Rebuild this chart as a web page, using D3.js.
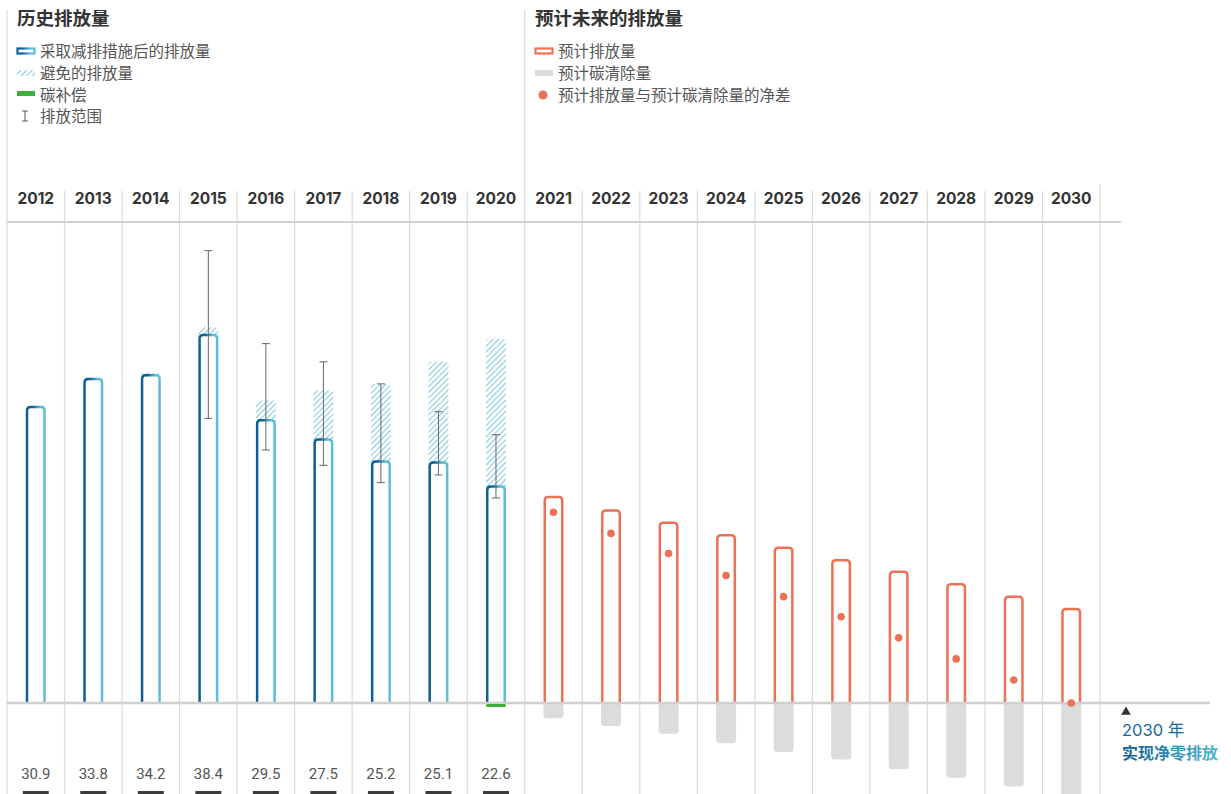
<!DOCTYPE html>
<html>
<head>
<meta charset="utf-8">
<script src="https://cdn.jsdelivr.net/npm/d3@7"></script>
<style>
  body { margin: 0; background: #fff; }
  text { font-family: "Noto Sans CJK SC", "Noto Sans", sans-serif; }
</style>
</head>
<body>
<svg id="mainsvg" width="1231" height="794"></svg>
<script>
// 历史数据
const histYears = ['2012', '2013', '2014', '2015', '2016', '2017', '2018', '2019', '2020'];
const histEmissions = [30.9, 33.8, 34.2, 38.4, 29.5, 27.5, 25.2, 25.1, 22.6];
const avoided = [0, 0.15, 0.3, 0.8, 2.1, 5.1, 8.1, 10.5, 15.4];
const rangeLow = [null, null, null, 29.7, 26.4, 24.8, 23.0, 23.8, 21.4];
const rangeHigh = [null, null, null, 47.2, 37.5, 35.6, 33.3, 30.4, 28.0];
const offsets = [0, 0, 0, 0, 0, 0, 0, 0, 0.3];
// 预计数据
const futureYears = ['2021', '2022', '2023', '2024', '2025', '2026', '2027', '2028', '2029', '2030'];
const futureEmissions = [21.5, 20.1, 18.8, 17.5, 16.2, 14.9, 13.7, 12.4, 11.1, 9.8];
const futureNet = [19.9, 17.7, 15.6, 13.3, 11.1, 9.0, 6.8, 4.6, 2.4, 0];

const allYears = histYears.concat(futureYears);
const blueDark = '#0d5f94';
const blueLight = '#5cbdd8';
const coral = '#ec7257';
const grid = '#dadada';

const svg = d3.select('#mainsvg');
const defs = svg.append('defs');

const grad = defs.append('linearGradient').attr('id', 'blueGrad')
  .attr('x1', '0%').attr('x2', '100%').attr('y1', '0%').attr('y2', '0%');
grad.append('stop').attr('offset', '0%').attr('stop-color', blueDark);
grad.append('stop').attr('offset', '30%').attr('stop-color', blueDark);
grad.append('stop').attr('offset', '75%').attr('stop-color', blueLight);
grad.append('stop').attr('offset', '100%').attr('stop-color', blueLight);

const textGrad = defs.append('linearGradient').attr('id', 'textGrad')
  .attr('x1', '0%').attr('x2', '100%');
textGrad.append('stop').attr('offset', '0%').attr('stop-color', '#0c5e93');
textGrad.append('stop').attr('offset', '100%').attr('stop-color', '#4fb6d3');

const hatch = defs.append('pattern').attr('id', 'hatch')
  .attr('patternUnits', 'userSpaceOnUse')
  .attr('width', 4).attr('height', 4)
  .attr('patternTransform', 'rotate(45)');
hatch.append('line').attr('x1', 0).attr('y1', 0).attr('x2', 0).attr('y2', 4)
  .attr('stroke', blueLight).attr('stroke-width', 1.6);

const xScale = d3.scaleBand().domain(allYears).range([7, 1100]);
const yScale = d3.scaleLinear().domain([0, 38.4]).range([703, 335]);
const bw = 20;
const r = 3.5;
const cx = d => xScale(d) + xScale.bandwidth() / 2;

// 顶部圆角，底部开口
const openTop = (x0, x1, yTop, yBase) =>
  `M${x0},${yBase}V${yTop + r}Q${x0},${yTop} ${x0 + r},${yTop}H${x1 - r}Q${x1},${yTop} ${x1},${yTop + r}V${yBase}`;
const closedTop = (x0, x1, yTop, yBase) => openTop(x0, x1, yTop, yBase) + 'Z';
const closedBottom = (x0, x1, yTop, yBot) =>
  `M${x0},${yTop}V${yBot - r}Q${x0},${yBot} ${x0 + r},${yBot}H${x1 - r}Q${x1},${yBot} ${x1},${yBot - r}V${yTop}Z`;

// 网格
const gridG = svg.append('g');
gridG.selectAll('line.v').data(allYears.slice(1)).join('line')
  .attr('x1', d => xScale(d)).attr('x2', d => xScale(d))
  .attr('y1', d => d === '2021' ? 10 : 191).attr('y2', 794)
  .attr('stroke', grid).attr('stroke-width', 1.2);
gridG.append('line').attr('x1', 1100).attr('x2', 1100).attr('y1', 184).attr('y2', 794)
  .attr('stroke', grid).attr('stroke-width', 1.2);
gridG.append('line').attr('x1', 7).attr('x2', 7).attr('y1', 10).attr('y2', 794)
  .attr('stroke', grid).attr('stroke-width', 1.2);
gridG.append('line').attr('x1', 7).attr('x2', 1121).attr('y1', 222).attr('y2', 222)
  .attr('stroke', '#d0d0d0').attr('stroke-width', 2);

// 年份
svg.append('g').selectAll('text').data(allYears).join('text')
  .attr('x', d => cx(d)).attr('y', 204)
  .attr('text-anchor', 'middle')
  .style('font-family', 'Inter, sans-serif')
  .attr('font-size', 15.5).attr('font-weight', 'bold').attr('fill', '#333')
  .text(d => d);

// 预计碳清除量（灰色）
svg.append('g').selectAll('path').data(futureYears).join('path')
  .attr('d', (d, i) => closedBottom(cx(d) - bw / 2, cx(d) + bw / 2, yScale(0),
    yScale(-(futureEmissions[i] - futureNet[i]))))
  .attr('fill', '#dcdcdc');

// 避免的排放量
svg.append('g').selectAll('path').data(histYears).join('path')
  .attr('d', (d, i) => avoided[i] > 0
    ? closedTop(cx(d) - bw / 2, cx(d) + bw / 2, yScale(histEmissions[i] + avoided[i]), yScale(histEmissions[i]) + 2)
    : '')
  .attr('fill', 'url(#hatch)');

// 采取减排措施后的排放量
svg.append('g').selectAll('path').data(histYears).join('path')
  .attr('d', (d, i) => openTop(cx(d) - bw / 2 + 1.25, cx(d) + bw / 2 - 1.25, yScale(histEmissions[i]), yScale(0)))
  .attr('fill', '#fff')
  .attr('stroke', 'url(#blueGrad)').attr('stroke-width', 2.5);

// 预计排放量
svg.append('g').selectAll('path').data(futureYears).join('path')
  .attr('d', (d, i) => openTop(cx(d) - bw / 2 + 1.25, cx(d) + bw / 2 - 1.25, yScale(futureEmissions[i]), yScale(0)))
  .attr('fill', '#fff')
  .attr('stroke', coral).attr('stroke-width', 2.5);

// 基线
svg.append('line').attr('x1', 7).attr('x2', 1210).attr('y1', yScale(0)).attr('y2', yScale(0))
  .attr('stroke', '#cfcfcf').attr('stroke-width', 2.5);

// 碳补偿
svg.append('g').selectAll('rect').data(histYears).join('rect')
  .attr('x', d => cx(d) - bw / 2).attr('width', bw)
  .attr('y', yScale(0) + 1)
  .attr('height', (d, i) => offsets[i] > 0 ? yScale(-offsets[i]) - yScale(0) : 0)
  .attr('rx', 1.5)
  .attr('fill', '#3fae3b');

// 排放范围
const eb = svg.append('g').attr('stroke', '#666').attr('stroke-width', 1);
histYears.forEach((d, i) => {
  if (rangeLow[i] === null) return;
  const x = cx(d);
  eb.append('line').attr('x1', x).attr('x2', x).attr('y1', yScale(rangeHigh[i])).attr('y2', yScale(rangeLow[i]));
  eb.append('line').attr('x1', x - 4).attr('x2', x + 4).attr('y1', yScale(rangeHigh[i])).attr('y2', yScale(rangeHigh[i]));
  eb.append('line').attr('x1', x - 4).attr('x2', x + 4).attr('y1', yScale(rangeLow[i])).attr('y2', yScale(rangeLow[i]));
});

// 净差点
svg.append('g').selectAll('circle').data(futureYears).join('circle')
  .attr('cx', d => cx(d)).attr('cy', (d, i) => yScale(futureNet[i]))
  .attr('r', 3.8).attr('fill', coral);

// 底部数值
svg.append('g').selectAll('text').data(histYears).join('text')
  .attr('x', d => cx(d)).attr('y', 779)
  .attr('text-anchor', 'middle')
  .style('font-family', 'Roboto, sans-serif')
  .attr('font-size', 15).attr('fill', '#555')
  .text((d, i) => histEmissions[i].toFixed(1));
svg.append('g').selectAll('rect').data(histYears).join('rect')
  .attr('x', d => cx(d) - 13).attr('width', 26)
  .attr('y', 791).attr('height', 3)
  .attr('fill', '#3c3c3c');

// 图例
svg.append('text').attr('x', 17).attr('y', 25).attr('font-size', 18.5).attr('font-weight', 'bold')
  .attr('fill', '#333').text('历史排放量');
svg.append('text').attr('x', 535).attr('y', 25).attr('font-size', 18.5).attr('font-weight', 'bold')
  .attr('fill', '#333').text('预计未来的排放量');

const legLeft = ['采取减排措施后的排放量', '避免的排放量', '碳补偿', '排放范围'];
const legRight = ['预计排放量', '预计碳清除量', '预计排放量与预计碳清除量的净差'];
const legY = [57, 79, 101, 122];

svg.append('g').selectAll('text').data(legLeft).join('text')
  .attr('x', 40).attr('y', (d, i) => legY[i]).attr('font-size', 15.5).attr('fill', '#555').text(d => d);
svg.append('g').selectAll('text').data(legRight).join('text')
  .attr('x', 558).attr('y', (d, i) => legY[i]).attr('font-size', 15.5).attr('fill', '#555').text(d => d);

svg.append('rect').attr('x', 17.5).attr('y', 48.5).attr('width', 17).attr('height', 5)
  .attr('fill', '#fff').attr('stroke', 'url(#blueGrad)').attr('stroke-width', 2.2);
svg.append('rect').attr('x', 17).attr('y', 70).attr('width', 18).attr('height', 6).attr('fill', 'url(#hatch)');
svg.append('rect').attr('x', 17).attr('y', 91).attr('width', 18).attr('height', 5).attr('fill', '#3fae3b');
const ic = svg.append('g').attr('stroke', '#555').attr('stroke-width', 1);
ic.append('line').attr('x1', 25).attr('x2', 25).attr('y1', 111).attr('y2', 121);
ic.append('line').attr('x1', 22).attr('x2', 28).attr('y1', 111).attr('y2', 111);
ic.append('line').attr('x1', 22).attr('x2', 28).attr('y1', 121).attr('y2', 121);

svg.append('rect').attr('x', 535.5).attr('y', 48.5).attr('width', 17).attr('height', 5)
  .attr('fill', '#fff').attr('stroke', coral).attr('stroke-width', 2.2);
svg.append('rect').attr('x', 535).attr('y', 70).attr('width', 18).attr('height', 6).attr('fill', '#dcdcdc');
svg.append('circle').attr('cx', 543).attr('cy', 95).attr('r', 4.5).attr('fill', coral);

// 注释
svg.append('path').attr('d', d3.symbol(d3.symbolTriangle, 40)()).attr('transform', 'translate(1126,712)')
  .attr('fill', '#333');
svg.append('text').attr('x', 1122).attr('y', 736)
  .style('font-family', 'Inter, "Noto Sans CJK SC", sans-serif')
  .attr('font-size', 16.5).attr('fill', '#16679d').text('2030 年');
svg.append('text').attr('x', 1122).attr('y', 759).attr('font-size', 16).attr('font-weight', 'bold')
  .attr('fill', 'url(#textGrad)').text('实现净零排放');
</script>
</body>
</html>
